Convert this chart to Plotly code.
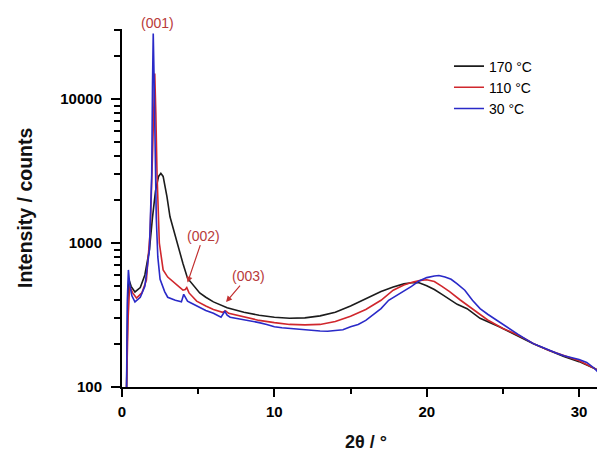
import plotly.graph_objects as go

# ---- data ----
x_170 = [0.3, 0.38, 0.45, 0.6, 0.85, 1.2, 1.5, 1.8, 2.0, 2.2, 2.4, 2.55, 2.7, 2.95, 3.15, 3.5, 3.8, 4.0,
         4.3, 4.6, 5.1, 5.5, 6.0, 6.9, 8, 9, 10, 11, 12, 13, 14, 15, 16, 17, 17.8, 18.5, 19.0, 19.5,
         20.0, 20.5, 21, 21.5, 22, 22.65, 23.5, 24.8, 26, 27, 28, 29, 30, 31, 31.7]
y_170 = [100, 400, 560, 500, 457, 490, 600, 900, 1500, 2300, 2900, 3050, 2900, 2100, 1520, 1100, 850, 720,
         570, 520, 450, 420, 390, 355, 330, 315, 305, 300, 302, 312, 330, 365, 410, 460, 494, 520, 530, 530,
         505, 475, 440, 405, 375, 350, 300, 261, 225, 200, 180, 163, 150, 135, 125]

x_110 = [0.3, 0.4, 0.5, 0.7, 0.95, 1.3, 1.6, 1.85, 2.0, 2.1, 2.15, 2.22, 2.3, 2.45, 2.7, 3.0, 3.6, 4.0,
         4.15, 4.25, 4.4, 4.6, 4.9, 5.5, 6.0, 6.6, 6.8, 7.0, 7.5, 8, 9, 10, 11, 12, 13, 14, 15, 16, 17,
         17.8, 18.5, 19.1, 19.6, 20.0, 20.5, 21, 21.5, 22.2, 23, 24, 25, 25.7, 26.5, 27, 28, 29, 30, 31, 31.7]
y_110 = [100, 300, 500, 450, 415, 450, 550, 1200, 4000, 12000, 15000, 8000, 3000, 1000, 650, 580, 511, 470,
         475, 490, 450, 425, 395, 365, 345, 330, 338, 325, 315, 305, 290, 280, 272, 270, 272, 285, 310, 345, 400,
         470, 510, 535, 550, 555, 540, 500, 460, 402, 350, 292, 255, 237, 215, 200, 180, 165, 152, 135, 122]

x_30 = [0.3, 0.35, 0.42, 0.5, 0.65, 0.85, 1.2, 1.5, 1.8, 1.95, 2.0, 2.05, 2.1, 2.15, 2.25, 2.35, 2.5, 2.8,
        3.0, 3.5, 3.9, 4.05, 4.15, 4.3, 4.5, 5.0, 5.5, 6.0, 6.5, 6.75, 6.9, 7.1, 7.5, 8, 8.5, 9, 9.5, 10,
        10.5, 11, 11.5, 12, 12.5, 13, 13.5, 14, 14.5, 15, 15.5, 16, 16.5, 17, 17.5, 18, 18.5, 19, 19.5, 20,
        20.5, 20.8, 21.2, 21.6, 22, 22.5, 23, 23.5, 24, 24.5, 25, 25.5, 26, 26.5, 27, 27.5, 28, 28.5, 29,
        29.5, 30, 30.5, 31, 31.4, 31.7]
y_30 = [100, 400, 650, 520, 430, 390, 420, 500, 900, 3000, 12000, 28500, 15000, 6000, 1500, 800, 560, 460,
        420, 400, 390, 440, 420, 395, 385, 360, 340, 325, 305, 335, 315, 305, 300, 292, 288, 280, 272, 262,
        258, 255, 252, 248, 245, 245, 244, 246, 250, 262, 272, 290, 320, 350, 400, 430, 460, 500, 545, 575,
        590, 595, 580, 560, 520, 470, 400, 350, 320, 295, 270, 250, 232, 215, 200, 190, 180, 172, 165,
        160, 155, 148, 135, 122, 115]

series_names = ["170 °C", "110 °C", "30 °C"]
series_colors = ["#1c1c1c", "#d0272d", "#2a2ac8"]

x_ticks = [0, 10, 20, 30]
x_minor = [5, 15, 25]
y_ticks = [100, 1000, 10000]
y_minor = [200, 300, 400, 500, 600, 700, 800, 900,
           2000, 3000, 4000, 5000, 6000, 7000, 8000, 9000, 20000, 30000]

FONT = "Liberation Sans, Arial, sans-serif"
LABEL_RED = "#b83a3a"

fig = go.Figure()
for xs, ys, name, col in zip([x_170, x_110, x_30], [y_170, y_110, y_30], series_names, series_colors):
    fig.add_trace(go.Scatter(x=xs, y=ys, mode="lines", name=name,
                             line=dict(color=col, width=1.6)))

# page body has an 8px default margin, so the figure is sized 8px smaller
fig.update_layout(
    width=597, height=446,
    margin=dict(l=114, r=0, t=21, b=67),
    paper_bgcolor="white", plot_bgcolor="white",
    font=dict(family=FONT, color="black"),
    showlegend=True,
    legend=dict(x=0.677, y=0.94, xanchor="left", yanchor="top",
                bgcolor="rgba(0,0,0,0)", font=dict(size=14, family=FONT),
                tracegroupgap=0),
)

fig.update_xaxes(
    range=[0, 31.7], showgrid=False, zeroline=False,
    showline=True, linecolor="black", linewidth=2,
    ticks="outside", ticklen=8, tickwidth=2, tickcolor="black",
    tickmode="array", tickvals=x_ticks, ticktext=[str(v) for v in x_ticks],
    tickfont=dict(size=15, family=FONT, weight="bold"),
    ticklabelstandoff=2,
    minor=dict(tickmode="array", tickvals=x_minor, ticks="outside", ticklen=5, tickwidth=2, tickcolor="black"),
)
fig.update_yaxes(
    type="log", range=[2, 4.486], showgrid=False, zeroline=False,
    showline=True, linecolor="black", linewidth=2,
    ticks="outside", ticklen=9, tickwidth=2, tickcolor="black",
    tickmode="array", tickvals=y_ticks, ticktext=[str(v) for v in y_ticks],
    tickfont=dict(size=15, family=FONT, weight="bold"),
    ticklabelstandoff=6,
    minor=dict(tickmode="array", tickvals=y_minor, ticks="outside", ticklen=6, tickwidth=1.5, tickcolor="black"),
)

# axis titles
fig.add_annotation(text="<b>Intensity / counts</b>", xref="paper", yref="paper",
                   x=-0.2008, y=0.5, textangle=-90, showarrow=False,
                   font=dict(size=19.5, family=FONT, color="#111"), xanchor="center", yanchor="middle")
fig.add_annotation(text="<b>2θ / °</b>", xref="paper", yref="paper",
                   x=0.505, y=-0.1536, showarrow=False,
                   font=dict(size=18, family=FONT, color="#111"), xanchor="center", yanchor="middle")

# peak labels
fig.add_annotation(text="(001)", xref="x", yref="paper", x=2.36, y=1.017, showarrow=False,
                   font=dict(size=14, family=FONT, color=LABEL_RED), xanchor="center", yanchor="middle")
fig.add_annotation(text="(002)", xref="x", yref="y", x=4.3, y=2.725, ax=16, ay=-47,
                   showarrow=True, arrowhead=2, arrowsize=1, arrowwidth=1.2, arrowcolor="#c23030",
                   font=dict(size=14, family=FONT, color=LABEL_RED))
fig.add_annotation(text="(003)", xref="x", yref="y", x=6.83, y=2.59, ax=22, ay=-26,
                   showarrow=True, arrowhead=2, arrowsize=1, arrowwidth=1.2, arrowcolor="#c23030",
                   font=dict(size=14, family=FONT, color=LABEL_RED))

fig.write_html("out.html")
